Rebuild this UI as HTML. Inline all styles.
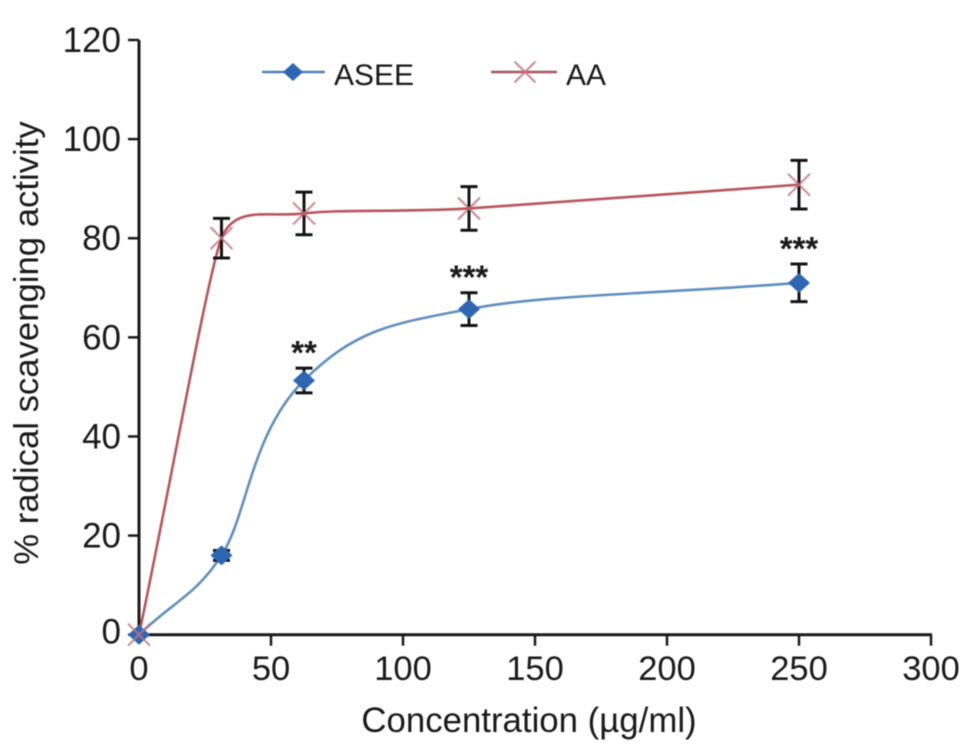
<!DOCTYPE html>
<html>
<head>
<meta charset="utf-8">
<style>
html,body{margin:0;padding:0;background:#fff;width:969px;height:751px;overflow:hidden}
svg{display:block;filter:blur(0.65px)}
text{font-family:"Liberation Sans",sans-serif;fill:#1a1a1a}
</style>
</head>
<body>
<svg id="chart" xmlns="http://www.w3.org/2000/svg" width="969" height="751" viewBox="0 0 969 751"></svg>
<script>
const concentrations = [0, 31.25, 62.5, 125, 250];
const aseeValues = [0, 16, 51.3, 65.7, 71];
const aseeErrors = [0, 1, 2.5, 3.3, 3.8];
const aaValues = [0, 80, 85, 86, 90.8];
const aaErrors = [0, 4, 4.3, 4.4, 4.9];
const xTicks = [0, 50, 100, 150, 200, 250, 300];
const yTicks = [0, 20, 40, 60, 80, 100, 120];
const significance = ['', '', '**', '***', '***'];

const svg = document.getElementById('chart');
const NS = 'http://www.w3.org/2000/svg';
function xScale(v){ return 139 + v * 2.64; }
function yScale(v){ return 634.7 - v * 4.956; }
function make(tag, attrs, text){
  const el = document.createElementNS(NS, tag);
  for (const k in attrs) el.setAttribute(k, attrs[k]);
  if (text !== undefined) el.textContent = text;
  svg.appendChild(el);
  return el;
}
function smoothPath(xs, ys){
  const p = xs.map((x, i) => [xScale(x), yScale(ys[i])]);
  const dist = (a, b) => Math.hypot(b[0] - a[0], b[1] - a[1]);
  const handle = i => {
    const lens = [];
    if (i > 0) lens.push(dist(p[i - 1], p[i]));
    if (i < p.length - 1) lens.push(dist(p[i], p[i + 1]));
    return Math.min.apply(null, lens) * 0.42;
  };
  const dir = i => {
    const a = p[Math.max(i - 1, 0)], b = p[Math.min(i + 1, p.length - 1)];
    const l = dist(a, b) || 1;
    return [(b[0] - a[0]) / l, (b[1] - a[1]) / l];
  };
  let d = 'M' + p[0][0] + ' ' + p[0][1];
  for (let i = 0; i < p.length - 1; i++){
    const d1 = dir(i), d2 = dir(i + 1), h1 = handle(i), h2 = handle(i + 1);
    d += 'C' + (p[i][0] + d1[0] * h1) + ' ' + (p[i][1] + d1[1] * h1) + ' ' +
         (p[i + 1][0] - d2[0] * h2) + ' ' + (p[i + 1][1] - d2[1] * h2) + ' ' + p[i + 1][0] + ' ' + p[i + 1][1];
  }
  return d;
}
function diamond(cx, cy, rx, ry, name){
  const el = make('polygon', {points: (cx - rx) + ',' + cy + ' ' + cx + ',' + (cy - ry) + ' ' + (cx + rx) + ',' + cy + ' ' + cx + ',' + (cy + ry), fill: '#2f66b4'});
  
  
}
function cross(cx, cy, r, name){
  const el = make('path', {d: 'M' + (cx - r) + ' ' + (cy - r) + 'L' + (cx + r) + ' ' + (cy + r) + 'M' + (cx + r) + ' ' + (cy - r) + 'L' + (cx - r) + ' ' + (cy + r), stroke: '#c9717c', 'stroke-width': 2, fill: 'none', opacity: 0.85});
  
  
}

/* axes */
const yAxis = make('line', {x1: 139, y1: 40, x2: 139, y2: yScale(0), stroke: '#1a1a1a', 'stroke-width': 3});


const xAxis = make('line', {x1: 138, y1: yScale(0), x2: xScale(300) + 1, y2: yScale(0), stroke: '#1a1a1a', 'stroke-width': 3});



yTicks.forEach(v => {
  const t = make('line', {x1: 128, y1: yScale(v), x2: 139, y2: yScale(v), stroke: '#1a1a1a', 'stroke-width': 2.5});
  
  
  const l = make('text', {x: 121, y: yScale(v) + 12 - (v === 0 ? 3 : 0), 'text-anchor': 'end', 'font-size': 35}, v);
  
  
});
xTicks.forEach(v => {
  if (v > 0){
    const t = make('line', {x1: xScale(v), y1: yScale(0), x2: xScale(v), y2: yScale(0) + 11, stroke: '#1a1a1a', 'stroke-width': 2.5});
    
    
  }
  const l = make('text', {x: xScale(v), y: 680, 'text-anchor': 'middle', 'font-size': 34.5}, v);
  
  
});

/* titles */
const xTitle = make('text', {x: 529, y: 732, 'text-anchor': 'middle', 'font-size': 34.8}, 'Concentration (µg/ml)');


const yTitle = make('text', {x: 0, y: 0, 'text-anchor': 'middle', 'font-size': 34.7, transform: 'translate(38,343) rotate(-90)'}, '% radical scavenging activity');



/* series lines */
const aaLine = make('path', {d: smoothPath(concentrations, aaValues), fill: 'none', stroke: '#b9545c', 'stroke-width': 2.6});


const aseeLine = make('path', {d: smoothPath(concentrations, aseeValues), fill: 'none', stroke: '#5f8fc0', 'stroke-width': 2.6});



/* error bars */
function errorBar(c, v, e, name){
  if (e === 0) return;
  const x = xScale(c), top = yScale(v + e), bot = yScale(v - e);
  const el = make('path', {d: 'M' + x + ' ' + top + 'V' + bot + 'M' + (x - 8.5) + ' ' + top + 'H' + (x + 8.5) + 'M' + (x - 8.5) + ' ' + bot + 'H' + (x + 8.5), stroke: '#141414', 'stroke-width': 3, fill: 'none'});
  
  
}
concentrations.forEach((c, i) => {
  errorBar(c, aaValues[i], aaErrors[i], 'aa-error-bar');
  errorBar(c, aseeValues[i], aseeErrors[i], 'asee-error-bar');
});

/* markers */
concentrations.forEach((c, i) => {
  diamond(xScale(c), yScale(aseeValues[i]), 11, 10, 'asee-point');
  cross(xScale(c), yScale(aaValues[i]), 11, 'aa-point');
});

/* significance */
significance.forEach((s, i) => {
  if (!s) return;
  const el = make('text', {x: xScale(concentrations[i]), y: yScale(aseeValues[i] + aseeErrors[i]) - 4, 'text-anchor': 'middle', 'font-size': 33, 'font-weight': 'bold'}, s);
  
  
});

/* legend */
const legendAseeLine = make('line', {x1: 262, y1: 72, x2: 325, y2: 72, stroke: '#4f82b8', 'stroke-width': 2.6});


diamond(293, 72, 10, 9, 'legend-asee-marker');
const legendAsee = make('text', {x: 334, y: 85, 'font-size': 30}, 'ASEE');


const legendAaLine = make('line', {x1: 491, y1: 72, x2: 557, y2: 72, stroke: '#a8555a', 'stroke-width': 2.6});


cross(525, 72, 10.5, 'legend-aa-marker');
const legendAa = make('text', {x: 566, y: 85, 'font-size': 30}, 'AA');


</script>
</body>
</html>
